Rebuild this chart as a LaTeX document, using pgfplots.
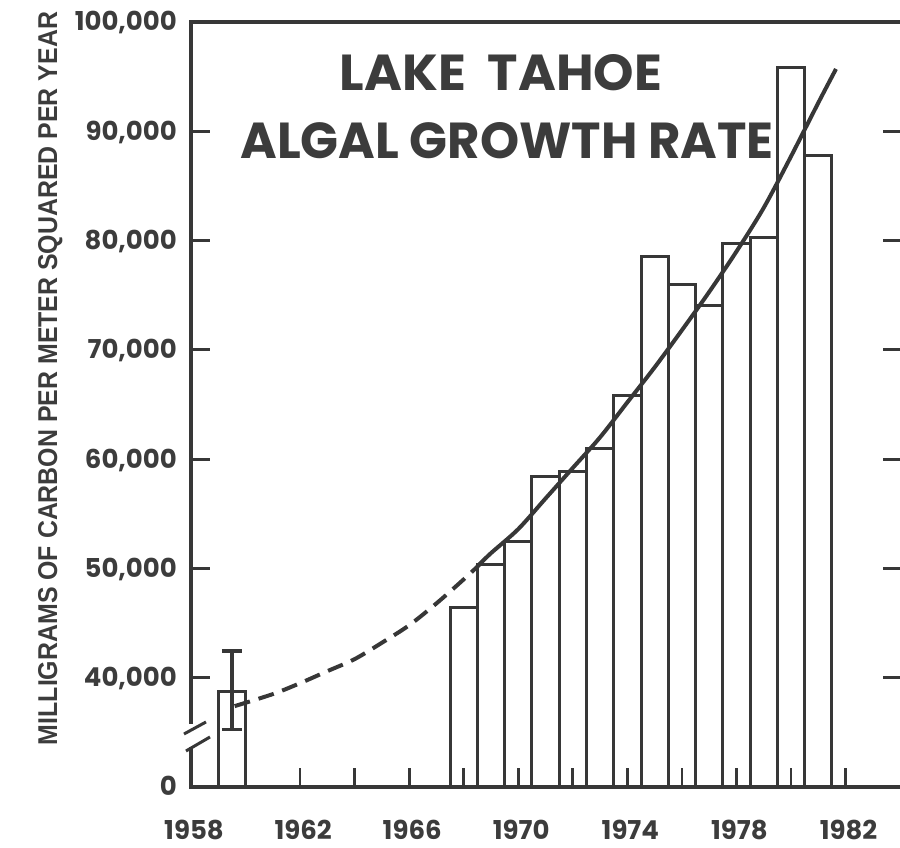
\documentclass[border=0pt]{standalone}
\usepackage{pgfplots}
\pgfplotsset{compat=1.18}
\usepackage{graphicx}
\usepackage{fontspec}
\setmainfont{Poppins}
\newfontfamily\labelfont{Liberation Sans}
\definecolor{ink}{RGB}{55,55,55}
\definecolor{txt}{RGB}{60,60,60}
\begin{document}
\begin{tikzpicture}[x=1pt,y=1pt]
\useasboundingbox (0,0) rectangle (900,848);
\begin{axis}[
  at={(191pt,61pt)}, anchor=south west,
  scale only axis, width=711pt, height=765pt,
  xmin=1958, xmax=1984.07, ymin=30000, ymax=100000,
  axis on top,
  scaled y ticks=false, scaled x ticks=false,
  axis line style={line width=3.2pt, color=ink},
  xtick={1958,1962,...,1982},
  xticklabels={1958,1962,1966,1970,1974,1978,1982},
  minor xtick={1960,1964,...,1980},
  ytick={30000,40000,...,100000},
  yticklabels={0,{40,000},{50,000},{60,000},{70,000},{80,000},{90,000},{100,000}},
  tick align=inside,
  xtick pos=left, ytick pos=both,
  major tick length=19pt, minor tick length=19pt,
  every tick/.style={line width=2.8pt, color=ink},
  xticklabel style={anchor=base, inner sep=0pt, yshift=-53pt, xshift=3pt,
    font=\fontsize{26}{28}\selectfont\bfseries, text=txt},
  yticklabel style={anchor=base east, inner sep=0pt, xshift=-14pt, yshift=-9pt,
    font=\fontsize{26}{28}\selectfont\bfseries, text=txt},
]
% main bars
\addplot[ybar, bar shift=0pt, bar width=1, fill=white, draw=ink, line width=3pt]
coordinates {
(1968,46400) (1969,50400) (1970,52500) (1971,58400) (1972,58900)
(1973,61000) (1974,65800) (1975,78500) (1976,76000) (1977,74100)
(1978,79700) (1979,80300) (1980,95800) (1981,87800)
};
% 1959 bar
\addplot[ybar, bar shift=0pt, bar width=1, fill=white, draw=ink, line width=3pt]
coordinates {(1959.5,38700)};
% error bar of the 1959 value (range 35,250 - 42,440)
\addplot[ink, line width=3.2pt, mark=none] coordinates {(1959.5,35250) (1959.5,42440)};
\addplot[ink, line width=3.2pt, mark=none] coordinates {(1959.13,42440) (1959.87,42440)};
\addplot[ink, line width=3.2pt, mark=none] coordinates {(1959.13,35250) (1959.87,35250)};
% dashed part of trend curve
\addplot[ink, line width=4pt, smooth, dash pattern=on 16pt off 9pt]
coordinates {
(1959.6,37400) (1961,38500) (1962,39500) (1963,40600) (1964,41700)
(1965,43200) (1966,44800) (1967,46800) (1968,49000) (1968.6,50400)
};
% solid part of trend curve
\addplot[ink, line width=4pt, smooth]
coordinates {
(1968.5,50200) (1969,51400) (1970,53600) (1971,56400) (1972,59200)
(1973,62000) (1974,65200) (1975,68400) (1976,71800) (1977,75300)
(1978,79000) (1979,83000) (1980,87700) (1981,92600) (1981.65,95700)
};
\end{axis}
% axis break on the left spine
\fill[white] (186,101) rectangle (197,124);
\draw[ink, line width=3pt] (184,114) -- (206,126);
\draw[ink, line width=3pt] (186,97) -- (210,111);
% title
\node[anchor=base, text=txt, inner sep=0pt] at (501,757)
  {\resizebox{322pt}{36pt}{\bfseries LAKE\ \ TAHOE}};
\node[anchor=base, text=txt, inner sep=0pt] at (507,689)
  {\resizebox{533pt}{36pt}{\bfseries ALGAL GROWTH RATE}};
% y axis label
\node[rotate=90, anchor=base, text=txt, inner sep=0pt] at (57,469.5)
  {\resizebox{733pt}{19pt}{\labelfont\bfseries MILLIGRAMS OF CARBON PER METER SQUARED PER YEAR}};
\end{tikzpicture}
\end{document}
